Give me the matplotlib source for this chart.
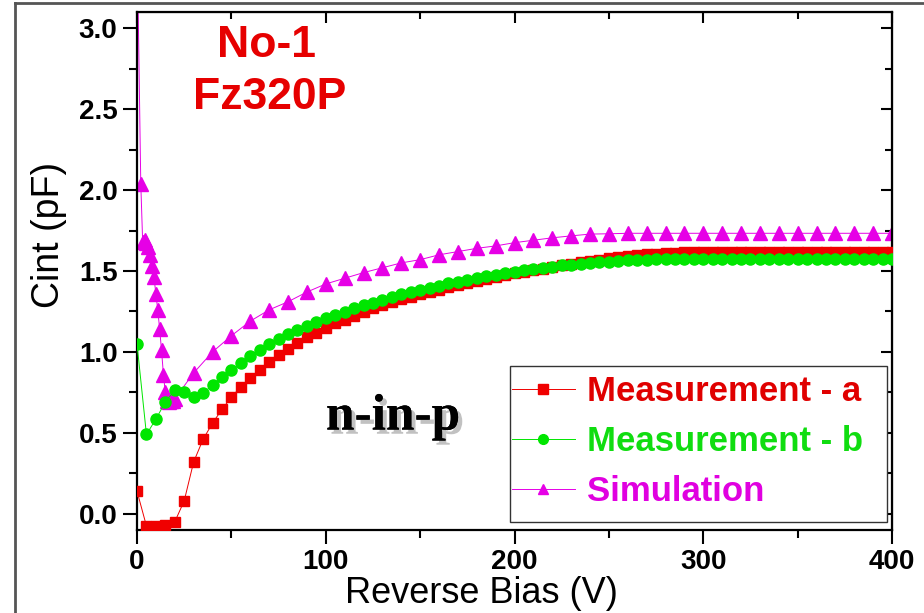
import matplotlib
matplotlib.use("Agg")
import matplotlib.pyplot as plt
import matplotlib.patheffects as pe
from matplotlib.ticker import MultipleLocator
from matplotlib.lines import Line2D
from matplotlib.patches import Rectangle

# ---------------- data ----------------
meas_a_v = list(range(0, 405, 5))
meas_a_c = [0.14, -0.075, -0.073, -0.068, -0.05, 0.08, 0.32, 0.46, 0.56, 0.645,
            0.72, 0.785, 0.84, 0.89, 0.94, 0.98, 1.02, 1.057, 1.09, 1.12,
            1.15, 1.177, 1.20, 1.225, 1.245, 1.27, 1.29, 1.308, 1.325, 1.341,
            1.357, 1.372, 1.385, 1.399, 1.413, 1.426, 1.438, 1.450, 1.462, 1.474,
            1.485, 1.495, 1.505, 1.515, 1.525, 1.535, 1.545, 1.554, 1.562, 1.570,
            1.578, 1.585, 1.592, 1.598, 1.603, 1.607, 1.610, 1.613, 1.615, 1.617,
            1.618, 1.619, 1.619, 1.620, 1.620, 1.620, 1.620, 1.620, 1.620, 1.620,
            1.620, 1.620, 1.620, 1.620, 1.620, 1.620, 1.620, 1.620, 1.620, 1.620,
            1.620]

meas_b_v = list(range(0, 405, 5))
meas_b_c = [1.05, 0.49, 0.585, 0.69, 0.765, 0.75, 0.72, 0.745, 0.796, 0.844,
            0.89, 0.93, 0.975, 1.012, 1.05, 1.078, 1.11, 1.136, 1.16, 1.187,
            1.208, 1.228, 1.249, 1.27, 1.29, 1.305, 1.322, 1.339, 1.355, 1.369,
            1.383, 1.397, 1.41, 1.423, 1.435, 1.446, 1.457, 1.467, 1.477, 1.486,
            1.495, 1.504, 1.512, 1.520, 1.527, 1.534, 1.540, 1.545, 1.550, 1.554,
            1.558, 1.562, 1.565, 1.568, 1.570, 1.572, 1.573, 1.574, 1.575, 1.575,
            1.575, 1.575, 1.575, 1.575, 1.575, 1.575, 1.575, 1.575, 1.575, 1.575,
            1.575, 1.575, 1.575, 1.575, 1.575, 1.575, 1.575, 1.575, 1.575, 1.575,
            1.575]

sim_v = [0, 2, 3, 4, 5, 6, 7, 8, 9, 10, 11, 12, 13, 14, 15, 16, 17, 18, 19, 20,
         30, 40, 50, 60, 70, 80, 90, 100, 110, 120, 130, 140, 150, 160, 170, 180,
         190, 200, 210, 220, 230, 240, 250, 260, 270, 280, 290, 300, 310, 320,
         330, 340, 350, 360, 370, 380, 390, 400]
sim_c = [3.6, 2.04, 1.68, 1.69, 1.67, 1.65, 1.60, 1.53, 1.46, 1.36, 1.26, 1.14,
         1.01, 0.86, 0.75, 0.70, 0.69, 0.70, 0.70, 0.71,
         0.87, 1.00, 1.10, 1.19, 1.26, 1.31, 1.37, 1.42, 1.455, 1.49, 1.52, 1.55,
         1.57, 1.60, 1.62, 1.64, 1.655, 1.675, 1.69, 1.705, 1.717, 1.728, 1.73,
         1.733, 1.733, 1.733, 1.733, 1.733, 1.733, 1.733, 1.733, 1.733, 1.733,
         1.733, 1.733, 1.733, 1.733, 1.733]

labels = ["Measurement - a", "Measurement - b", "Simulation"]
colors = ["#f00000", "#00e600", "#e600e6"]
text_colors = ["#e00000", "#10dd10", "#e000e0"]

x_ticks = [0, 100, 200, 300, 400]
y_ticks = [0.0, 0.5, 1.0, 1.5, 2.0, 2.5, 3.0]

# ---------------- figure ----------------
SANS = ["Liberation Sans", "DejaVu Sans"]
fig = plt.figure(figsize=(9.24, 6.13), dpi=100)
fig.patch.set_facecolor("white")
ax = fig.add_axes([137 / 924, 1 - 530 / 613, 755 / 924, 518 / 613])

ax.plot(meas_a_v, meas_a_c, color=colors[0], lw=0.7, marker="s", ms=7.5,
        mec=colors[0], mfc=colors[0], zorder=3, clip_on=True)
ax.plot(meas_b_v, meas_b_c, color=colors[1], lw=0.7, marker="o", ms=8,
        mec=colors[1], mfc=colors[1], zorder=4, clip_on=True)
ax.plot(sim_v, sim_c, color=colors[2], lw=0.7, marker="^", ms=9.5,
        mec=colors[2], mfc=colors[2], zorder=2, clip_on=True)

ax.set_xlim(0, 400)
ax.set_ylim(-0.1, 3.1)
ax.set_xticks(x_ticks)
ax.set_yticks(y_ticks)
ax.set_yticklabels([f"{v:.1f}" for v in y_ticks])
ax.xaxis.set_minor_locator(MultipleLocator(50))
ax.yaxis.set_minor_locator(MultipleLocator(0.25))

for s in ax.spines.values():
    s.set_linewidth(1.6)
    s.set_color("black")

ax.tick_params(axis="both", which="major", direction="out", length=10, width=1.5,
               labelsize=20, pad=4)
ax.tick_params(axis="both", which="minor", direction="out", length=6, width=1.5)
# mirrored ticks on top/right (inward)
axt = ax.secondary_xaxis("top")
axt.set_xticks(x_ticks)
axt.xaxis.set_minor_locator(MultipleLocator(50))
axt.tick_params(which="major", direction="in", length=8, width=1.5, labeltop=False)
axt.tick_params(which="minor", direction="in", length=5, width=1.5)
axr = ax.secondary_yaxis("right")
axr.set_yticks(y_ticks)
axr.yaxis.set_minor_locator(MultipleLocator(0.25))
axr.tick_params(which="major", direction="in", length=8, width=1.5, labelright=False)
axr.tick_params(which="minor", direction="in", length=5, width=1.5)

for lab in ax.get_xticklabels() + ax.get_yticklabels():
    lab.set_fontweight("bold")
    lab.set_family(SANS)

ax.set_xlabel("Reverse Bias (V)", fontsize=26, family=SANS)
ax.xaxis.set_label_coords(0.456, -0.088)
ax.set_ylabel("Cint (pF)", fontsize=27, family=SANS)
ax.yaxis.set_label_coords(-0.093, 0.57)

# annotations
ax.text(0.172, 0.935, "No-1", transform=ax.transAxes, ha="center", va="center",
        color="#e60000", fontsize=32, fontweight="bold", family=SANS)
ax.text(0.176, 0.835, "Fz320P", transform=ax.transAxes, ha="center", va="center",
        color="#e60000", fontsize=32, fontweight="bold", family=SANS)
ax.text(0.339, 0.217, "n-in-p", transform=ax.transAxes, ha="center", va="center",
        color="black", fontsize=37, fontweight="bold",
        family=["Liberation Serif", "DejaVu Serif"],
        path_effects=[pe.withSimplePatchShadow(offset=(3, -3), shadow_rgbFace="#777777",
                                               alpha=0.45), pe.Normal()])

# legend: box drawn separately, entries placed inside
ax.add_patch(Rectangle((0.494, 0.0154), 0.499, 0.301, transform=ax.transAxes,
                       facecolor="white", edgecolor="#333333", lw=1.0, zorder=5))
handles = [
    Line2D([], [], color=colors[0], lw=0.7, marker="s", ms=6.5, mfc=colors[0], mec=colors[0]),
    Line2D([], [], color=colors[1], lw=0.7, marker="o", ms=7, mfc=colors[1], mec=colors[1]),
    Line2D([], [], color=colors[2], lw=0.7, marker="^", ms=7.5, mfc=colors[2], mec=colors[2]),
]
leg = ax.legend(handles, labels, loc="center left",
                bbox_to_anchor=(0.4967, 0.1708), borderaxespad=0, frameon=False,
                prop={"family": SANS, "weight": "bold", "size": 25},
                handlelength=1.8, handletextpad=0.35, borderpad=0.0, labelspacing=0.5)
leg.set_zorder(6)
for t, c in zip(leg.get_texts(), text_colors):
    t.set_color(c)

# outer gray frame lines of the picture (left and top)
fig.add_artist(Line2D([15 / 924, 15 / 924], [0, 1 - 3 / 613], transform=fig.transFigure,
                      color="#555555", lw=2))
fig.add_artist(Line2D([15 / 924, 1], [1 - 3 / 613, 1 - 3 / 613], transform=fig.transFigure,
                      color="#555555", lw=2))

fig.savefig("out.png", dpi=100, facecolor="white")
